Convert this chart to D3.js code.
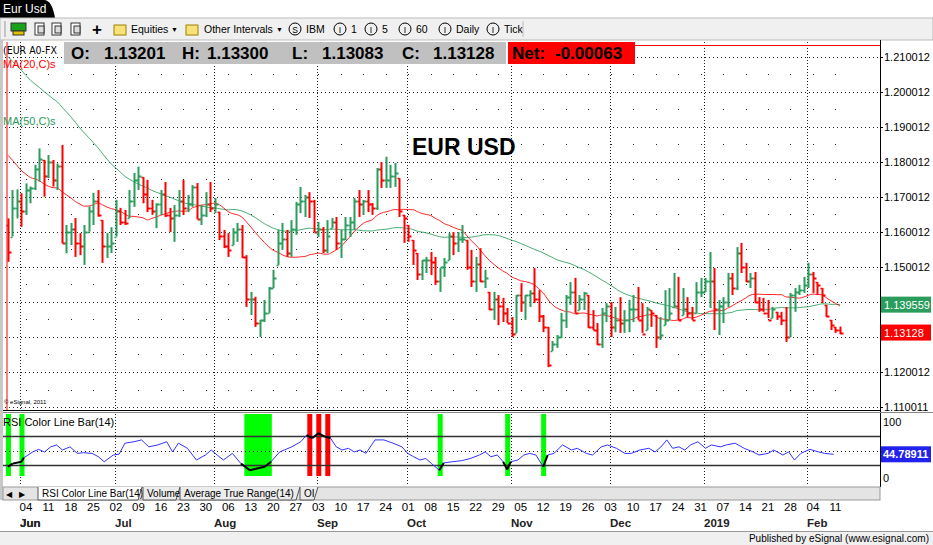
<!DOCTYPE html>
<html><head><meta charset="utf-8">
<script src="https://cdn.jsdelivr.net/npm/d3@7"></script>
<style>body{margin:0;background:#fff;overflow:hidden}svg{display:block;font-family:"Liberation Sans",Arial,sans-serif}</style>
</head><body><svg id="c" width="933" height="545"></svg>
<script>
// ---- data (EUR/USD daily) ----
const preCloses=[1.233,1.225,1.235,1.231,1.235,1.245,1.240,1.231,1.232,1.232,1.230,1.228,1.226,1.231,1.228,1.232,1.236,1.237,1.232,1.233,1.238,1.237,1.238,1.237,1.229,1.221,1.223,1.222,1.210,1.213,1.208,1.199,1.195,1.199,1.196,1.192,1.192,1.185,1.192,1.194,1.193,1.183,1.181,1.179,1.177,1.179,1.178,1.170,1.172,1.165,1.162];
const highs=[1.1639,1.1720,1.1722,1.1711,1.1739,1.1730,1.1792,1.1839,1.1806,1.1820,1.1806,1.1796,1.1849,1.1620,1.1626,1.1640,1.1597,1.1620,1.1673,1.1712,1.1720,1.1634,1.1597,1.1614,1.1692,1.1669,1.1663,1.1720,1.1769,1.1787,1.1757,1.1749,1.1692,1.1682,1.1720,1.1743,1.1669,1.1677,1.1720,1.1749,1.1706,1.1734,1.1740,1.1677,1.1714,1.1743,1.1697,1.1658,1.1606,1.1597,1.1611,1.1626,1.1620,1.1534,1.1429,1.1415,1.1349,1.1406,1.1443,1.1492,1.1606,1.1626,1.1606,1.1634,1.1686,1.1729,1.1706,1.1714,1.1692,1.1629,1.1614,1.1634,1.1640,1.1643,1.1606,1.1643,1.1643,1.1697,1.1720,1.1692,1.1720,1.1683,1.1783,1.1800,1.1815,1.1792,1.1797,1.1754,1.1649,1.1620,1.1577,1.1540,1.1520,1.1529,1.1543,1.1529,1.1497,1.1526,1.1597,1.1600,1.1600,1.1620,1.1577,1.1549,1.1529,1.1554,1.1492,1.1429,1.1429,1.1420,1.1412,1.1383,1.1357,1.1420,1.1454,1.1420,1.1434,1.1497,1.1434,1.1363,1.1329,1.1289,1.1306,1.1369,1.1420,1.1457,1.1469,1.1420,1.1429,1.1420,1.1377,1.1340,1.1383,1.1397,1.1400,1.1386,1.1414,1.1377,1.1406,1.1420,1.1443,1.1397,1.1386,1.1377,1.1363,1.1357,1.1434,1.1440,1.1483,1.1472,1.1440,1.1414,1.1386,1.1457,1.1469,1.1469,1.1543,1.1497,1.1406,1.1414,1.1483,1.1483,1.1557,1.1569,1.1512,1.1483,1.1486,1.1414,1.1412,1.1406,1.1386,1.1372,1.1372,1.1386,1.1426,1.1440,1.1449,1.1472,1.1512,1.1486,1.1457,1.1440,1.1392,1.1349,1.1329,1.1330];
const lows=[1.1515,1.1587,1.1639,1.1615,1.1649,1.1682,1.1720,1.1744,1.1701,1.1754,1.1730,1.1720,1.1568,1.1539,1.1563,1.1529,1.1534,1.1506,1.1601,1.1620,1.1644,1.1512,1.1526,1.1540,1.1587,1.1620,1.1620,1.1640,1.1672,1.1720,1.1682,1.1657,1.1649,1.1611,1.1649,1.1643,1.1600,1.1572,1.1643,1.1649,1.1657,1.1672,1.1637,1.1620,1.1643,1.1657,1.1654,1.1577,1.1554,1.1529,1.1563,1.1572,1.1526,1.1386,1.1363,1.1329,1.1300,1.1343,1.1369,1.1440,1.1506,1.1549,1.1529,1.1529,1.1592,1.1654,1.1643,1.1640,1.1600,1.1586,1.1540,1.1540,1.1612,1.1549,1.1526,1.1577,1.1586,1.1606,1.1643,1.1649,1.1657,1.1649,1.1663,1.1726,1.1726,1.1726,1.1729,1.1643,1.1569,1.1572,1.1506,1.1463,1.1463,1.1483,1.1477,1.1449,1.1429,1.1472,1.1520,1.1534,1.1543,1.1569,1.1492,1.1443,1.1429,1.1457,1.1440,1.1377,1.1349,1.1334,1.1343,1.1340,1.1300,1.1312,1.1372,1.1349,1.1386,1.1397,1.1343,1.1314,1.1214,1.1260,1.1269,1.1297,1.1326,1.1392,1.1369,1.1377,1.1377,1.1326,1.1320,1.1277,1.1269,1.1343,1.1300,1.1314,1.1312,1.1312,1.1314,1.1343,1.1349,1.1312,1.1320,1.1329,1.1269,1.1292,1.1334,1.1349,1.1386,1.1349,1.1363,1.1357,1.1349,1.1369,1.1414,1.1429,1.1383,1.1320,1.1306,1.1340,1.1386,1.1420,1.1434,1.1483,1.1457,1.1440,1.1397,1.1372,1.1372,1.1354,1.1354,1.1349,1.1334,1.1286,1.1300,1.1372,1.1420,1.1426,1.1440,1.1426,1.1420,1.1397,1.1357,1.1320,1.1312,1.1308];
const closes=[1.1543,1.167,1.169,1.166,1.172,1.1725,1.178,1.181,1.176,1.180,1.175,1.179,1.157,1.160,1.161,1.157,1.156,1.160,1.166,1.169,1.165,1.156,1.156,1.157,1.166,1.163,1.1625,1.169,1.175,1.176,1.171,1.167,1.166,1.168,1.171,1.165,1.164,1.165,1.169,1.167,1.168,1.173,1.1637,1.165,1.168,1.167,1.168,1.159,1.156,1.155,1.160,1.161,1.153,1.141,1.141,1.134,1.135,1.137,1.144,1.147,1.157,1.158,1.154,1.161,1.168,1.169,1.170,1.169,1.160,1.161,1.155,1.159,1.163,1.157,1.158,1.162,1.163,1.169,1.168,1.169,1.168,1.167,1.178,1.175,1.175,1.176,1.177,1.166,1.164,1.159,1.155,1.148,1.152,1.152,1.1515,1.146,1.150,1.1515,1.159,1.157,1.158,1.158,1.150,1.146,1.151,1.146,1.147,1.138,1.141,1.139,1.137,1.134,1.131,1.142,1.140,1.142,1.1425,1.141,1.136,1.133,1.122,1.128,1.130,1.135,1.1415,1.143,1.137,1.141,1.1425,1.133,1.132,1.128,1.137,1.139,1.133,1.135,1.134,1.135,1.138,1.138,1.135,1.131,1.138,1.137,1.130,1.1306,1.135,1.137,1.139,1.135,1.138,1.137,1.135,1.143,1.143,1.146,1.146,1.138,1.139,1.140,1.147,1.144,1.154,1.150,1.146,1.147,1.140,1.138,1.137,1.135,1.138,1.136,1.135,1.130,1.142,1.143,1.1435,1.145,1.148,1.147,1.145,1.142,1.136,1.1335,1.132,1.13128];
const priceTicks=[1.210012,1.200012,1.190012,1.180012,1.170012,1.160012,1.150012,1.140012,1.130012,1.120012,1.110011];
// RSI(14) line: bar index, value
const rsiIdx=[0,1,3,3.5,5.5,6.8,8.1,9.5,10.8,12.1,13.8,15.4,16.8,18.7,20.1,21.4,23.4,24.7,26,28,29.7,31.3,33.3,35.3,36.6,37.9,39.9,41.9,43.9,45.2,46.5,47.9,49.9,51.8,53.8,55.1,57.1,58.5,60.4,63.1,65.1,66.4,67.7,69,70.4,71.7,73,74.3,75.7,77,78.3,79.6,81.6,83.6,85.6,87.6,88.9,90.2,91.6,92.9,94.2,95.9,96.9,98.8,100.8,102.8,104.8,106.1,107.4,108.8,110.1,111,111.8,113.4,114.7,116,117.4,119,120,121.4,123.3,125.3,126.6,128.6,130,131.9,133.3,135.3,137.2,138.6,140.5,142.5,143.9,145.2,146.5,147.8,149.2,150.5,151.8,153.4,155.1,156.4,158.4,159.7,161.7,163.7,165.7,167,169,170.3,172.3,173.6,174.9,176.3,178.3,180.3,181.6,183.6];
const rsiVal=[27.7,32,34.6,40,48,51.6,48,55,57.6,50.7,55,46,47,46,41.5,34.6,43.8,45,60,62,64.5,55,57.6,62,48,60,53,37,43.8,50.7,43.8,37,46,32,23,25,27.7,34.6,48,55,62,71,67,73.7,69,67,55,50.7,53,48,50.7,46,64.5,64.5,60,55,46,41.5,37,39,32,23,33,34.6,36,39,43.8,48,41.5,43.8,34.6,24,34.6,37,43.8,46,43.8,27.7,43.8,46,57.6,50.7,53,46,43.8,55,57.6,53,46,46,50.7,53,48,55,64.5,53,55,50.7,57.6,62,53,57.6,55,57.6,60,53,48,43.8,46,50.7,43.8,48,37,46,51.6,48,46,44.78911];
const greenZones=[[0,0],[3,3],[53,58],[96,96],[111,111],[119,119]];
const redZones=[[67,67],[69,69],[71,71]];
const startDate=new Date(2018,4,29);
const header={sym:"(EUR A0-FX",o:"1.13201",h:"1.13300",l:"1.13083",c:"1.13128",net:"-0.00063"};
const ma50Last="1.139559", rsiLast="44.78911";

// ---- build dates (weekdays) ----
const dates=[];{let d=new Date(startDate);while(dates.length<closes.length){const w=d.getDay();if(w>0&&w<6)dates.push(new Date(d));d=d3.timeDay.offset(d,1);}}
const bars=closes.map((c,i)=>({i,c,h:highs[i],l:lows[i],o:i?closes[i-1]:preCloses[preCloses.length-1]}));
const all=preCloses.concat(closes),P=preCloses.length;
function ma(n){return closes.map((c,i)=>{const j=i+P;return d3.mean(all.slice(j-n+1,j+1));});}
const ma20=ma(20),ma50=ma(50);

const svg=d3.select("#c");
const x=d3.scaleLinear().domain([0,closes.length-1]).range([8,8+(closes.length-1)*4.497]);
const y=d3.scaleLinear().domain([1.110011,1.210012]).range([407,57]);
const yr=d3.scaleLinear().domain([0,100]).range([487,414]);
const GREEN="#2a9d5c",RED="#ff0000";

// top tab & toolbar
svg.append("path").attr("d","M0,0H44Q52,0 55,18H0Z").attr("fill","#000");
svg.append("text").attr("x",3).attr("y",13).attr("fill","#fff").attr("font-size",12).text("Eur Usd");
svg.append("rect").attr("x",0).attr("y",18).attr("width",933).attr("height",22).attr("fill","#f0f0f0").attr("stroke","#bbb");
const tb=svg.append("g").attr("font-size",10.5);
tb.append("rect").attr("x",11).attr("y",23).attr("width",15).attr("height",8).attr("fill","#1aa01a").attr("stroke","#333");
tb.append("rect").attr("x",13).attr("y",31).attr("width",11).attr("height",4).attr("fill","#e0c000").attr("stroke","#333");
[35,52,71].forEach(a=>{tb.append("rect").attr("x",a).attr("y",23).attr("width",9).attr("height",12).attr("fill","#fff").attr("stroke","#333");tb.append("rect").attr("x",a+3).attr("y",26).attr("width",6).attr("height",7).attr("fill","#ddd").attr("stroke","#333");});
tb.append("text").attr("x",92).attr("y",35).attr("font-size",17).attr("font-weight","bold").text("+");
[114,186].forEach(a=>tb.append("rect").attr("x",a).attr("y",25).attr("width",12).attr("height",10).attr("fill","#f7e27a").attr("stroke","#a08000"));
tb.append("text").attr("x",131).attr("y",33).text("Equities");
tb.append("text").attr("x",171).attr("y",32).attr("font-size",7).text("▼");
tb.append("text").attr("x",204).attr("y",33).text("Other Intervals");
tb.append("text").attr("x",276).attr("y",32).attr("font-size",7).text("▼");
[["S","IBM",289],["I","1",334],["I","5",365],["I","60",399],["I","Daily",439],["I","Tick",487]].forEach(([s,t,a])=>{tb.append("circle").attr("cx",a+6).attr("cy",29).attr("r",6).attr("fill","none").attr("stroke","#000");tb.append("text").attr("x",a+6).attr("y",32.5).attr("text-anchor","middle").attr("font-size",8.5).text(s);tb.append("text").attr("x",a+17).attr("y",33).text(t);});
tb.append("line").attr("x1",5).attr("x2",5).attr("y1",21).attr("y2",37).attr("stroke","#999");
tb.append("line").attr("x1",523).attr("x2",523).attr("y1",21).attr("y2",37).attr("stroke","#bbb");

// frame
svg.append("rect").attr("x",0).attr("y",40).attr("width",3).attr("height",460).attr("fill","#c8c8c8");
svg.append("line").attr("x1",880.5).attr("x2",880.5).attr("y1",40).attr("y2",487).attr("stroke","#000");
svg.append("line").attr("x1",3).attr("x2",880).attr("y1",410.5).attr("y2",410.5).attr("stroke","#000");
svg.append("line").attr("x1",3).attr("x2",933).attr("y1",412.5).attr("y2",412.5).attr("stroke","#888");

// grid
const grid=svg.append("g");
const monthStarts=dates.map((d,i)=>i).filter(i=>i>0&&dates[i].getMonth()!==dates[i-1].getMonth());
const mondays=dates.map((d,i)=>i).filter(i=>dates[i].getDay()===1);
priceTicks.forEach(p=>grid.append("line").attr("x1",5).attr("x2",880).attr("y1",Math.round(y(p))+.5).attr("y2",Math.round(y(p))+.5).attr("stroke","#222").attr("stroke-dasharray","1,3"));
priceTicks.slice(1).forEach(p=>{const yy=Math.round(y(p+0.005));mondays.forEach(i=>grid.append("rect").attr("x",Math.round(x(i))).attr("y",yy).attr("width",1).attr("height",1).attr("fill","#222"));});
monthStarts.forEach(i=>{[[42,410],[414,486]].forEach(([a,b])=>grid.append("line").attr("x1",Math.round(x(i))-.5).attr("x2",Math.round(x(i))-.5).attr("y1",a).attr("y2",b).attr("stroke","#222").attr("stroke-dasharray","1,2"));});

// MAs
const line=d3.line().x((d,i)=>x(i)).y(d=>y(d)).curve(d3.curveMonotoneX);
svg.append("clipPath").attr("id","pc").append("rect").attr("x",4).attr("y",42).attr("width",876).attr("height",368);
svg.append("path").attr("d",line(ma50)).attr("fill","none").attr("stroke",GREEN).attr("stroke-width",1).attr("clip-path","url(#pc)").attr("opacity",.85);
svg.append("path").attr("d",line(ma20)).attr("fill","none").attr("stroke",RED).attr("stroke-width",1).attr("clip-path","url(#pc)").attr("opacity",.85);

// bars
const bg=svg.append("g");
bars.forEach(b=>{const col=b.c>=b.o?GREEN:RED;const xx=Math.round(x(b.i))+.5;
 bg.append("line").attr("x1",xx).attr("x2",xx).attr("y1",y(b.h)).attr("y2",y(b.l)).attr("stroke",col).attr("stroke-width",2);
 const yc=Math.round(y(b.c))+.5, yo=Math.round(y(Math.max(b.l,Math.min(b.h,b.o))))+.5;
 bg.append("line").attr("x1",xx).attr("x2",xx+3).attr("y1",yc).attr("y2",yc).attr("stroke",col).attr("stroke-width",2);
 bg.append("line").attr("x1",xx-2).attr("x2",xx).attr("y1",yo).attr("y2",yo).attr("stroke",col).attr("stroke-width",1.5);
});
svg.append("line").attr("x1",7).attr("x2",7).attr("y1",42).attr("y2",410).attr("stroke",RED);
svg.append("line").attr("x1",635).attr("x2",880).attr("y1",45.5).attr("y2",45.5).attr("stroke",RED);

// header
svg.append("text").attr("x",3).attr("y",54).attr("font-size",10.5).attr("font-family","DejaVu Sans Condensed, DejaVu Sans").text(header.sym);
svg.append("rect").attr("x",64).attr("y",42).attr("width",442).attr("height",22).attr("fill","#c0c0c0");
svg.append("rect").attr("x",508).attr("y",42).attr("width",127).attr("height",22).attr("fill",RED);
const hg=svg.append("g").attr("font-size",17).attr("font-weight","bold");
[["O:",71],[header.o,104],["H:",182],[header.h,207],["L:",292],[header.l,322],["C:",402],[header.c,433],["Net:",512],[header.net,555]].forEach(([t,a])=>hg.append("text").attr("x",a).attr("y",59).text(t));
svg.append("text").attr("x",3).attr("y",68).attr("font-size",11).attr("fill",RED).text("MA(20,C)s");
svg.append("text").attr("x",3).attr("y",125).attr("font-size",11).attr("fill",GREEN).text("MA(50,C)s");
svg.append("text").attr("x",412).attr("y",155).attr("font-size",23).attr("font-weight","bold").text("EUR USD");
svg.append("text").attr("x",4).attr("y",404).attr("font-size",6).text("© eSignal, 2011");

// price axis
const boxes=[[ma50[ma50.length-1],GREEN,ma50Last],[closes[closes.length-1],RED,header.c]];
const visTicks=priceTicks.filter(p=>boxes.every(b=>Math.abs(y(p)-y(b[0]))>12));
const pa=svg.append("g").attr("transform","translate(880,0)").call(d3.axisRight(y).tickValues(visTicks).tickFormat(d=>d.toFixed(6)).tickSize(3));
pa.select(".domain").remove();pa.selectAll("text").attr("font-size",11).attr("fill","#000").attr("x",4).attr("font-family","Liberation Sans");
boxes.forEach(([v,col,txt])=>{svg.append("rect").attr("x",881).attr("y",y(v)-8).attr("width",50).attr("height",16).attr("fill",col);svg.append("text").attr("x",884).attr("y",y(v)+4).attr("font-size",11).attr("fill","#fff").text(txt);});

// RSI panel
const rg=svg.append("g");
const zoneRect=(z,c)=>z.forEach(([a,b])=>rg.append("rect").attr("x",x(a)-2).attr("y",414).attr("width",x(b)-x(a)+5).attr("height",62).attr("fill",c));
zoneRect(greenZones,"#00ff00");zoneRect(redZones,RED);
[70,30].forEach(v=>rg.append("line").attr("x1",3).attr("x2",880).attr("y1",Math.round(yr(v))+.5).attr("y2",Math.round(yr(v))+.5).attr("stroke","#333").attr("stroke-width",1.5));
rg.append("line").attr("x1",5).attr("x2",880).attr("y1",Math.round(yr(50))+.5).attr("y2",Math.round(yr(50))+.5).attr("stroke","#222").attr("stroke-dasharray","1,3");
const rl=d3.line().x(d=>x(d[0])).y(d=>yr(d[1]));
const rpts=rsiIdx.map((t,k)=>[t,rsiVal[k]]);
rg.append("path").attr("d",rl(rpts)).attr("fill","none").attr("stroke","#3333ff").attr("stroke-width",1);
const inZone=t=>greenZones.concat(redZones).some(([a,b])=>t>=a-1.2&&t<=b+1.2);
for(let k=1;k<rpts.length;k++){if(inZone(rpts[k][0])&&inZone(rpts[k-1][0]))rg.append("path").attr("d",rl([rpts[k-1],rpts[k]])).attr("stroke","#000").attr("stroke-width",2);}
rg.append("text").attr("x",3).attr("y",426).attr("font-size",11).text("RSI Color Line Bar(14)");
rg.append("text").attr("x",883).attr("y",426).attr("font-size",11).text("100");
rg.append("text").attr("x",883).attr("y",482).attr("font-size",11).text("0");
const lastR=rsiVal[rsiVal.length-1];
rg.append("rect").attr("x",881).attr("y",yr(lastR)-8).attr("width",50).attr("height",16).attr("fill","#2222ee");
rg.append("text").attr("x",883).attr("y",yr(lastR)+4).attr("font-size",11).attr("font-weight","bold").attr("fill","#fff").text(rsiLast);

// tab bar
svg.append("rect").attr("x",3).attr("y",487).attr("width",877).attr("height",13).attr("fill","#e4e4e4").attr("stroke","#999");
svg.append("text").attr("x",6).attr("y",497).attr("font-size",8).text("◀");svg.append("text").attr("x",19).attr("y",497).attr("font-size",8).text("▶");
[["RSI Color Line Bar(14)",38,142],["Volume",143,180],["Average True Range(14)",180,300],["OI",300,318]].forEach(([t,a,b],k)=>{svg.append("path").attr("d",`M${a},487V500H${b-4}L${b},487`).attr("fill",k?"#ececec":"#fff").attr("stroke","#555");svg.append("text").attr("x",a+4).attr("y",497).attr("font-size",10).text(t);});

// date axis
const da=svg.append("g").attr("font-size",11.5);
mondays.forEach(i=>da.append("text").attr("x",x(i)).attr("y",511).attr("text-anchor","middle").text(d3.timeFormat("%d")(dates[i])));
[3].concat(monthStarts).forEach(i=>{const d=dates[i];da.append("text").attr("x",Math.round(x(i))-1).attr("y",527).attr("font-weight","bold").attr("fill","#222").text(d.getMonth()===0?d.getFullYear():d3.timeFormat("%b")(d));});
svg.append("line").attr("x1",0).attr("x2",933).attr("y1",531.5).attr("y2",531.5).attr("stroke","#999");
svg.append("rect").attr("x",0).attr("y",532).attr("width",933).attr("height",13).attr("fill","#f0f0f0");
svg.append("text").attr("x",929).attr("y",542).attr("text-anchor","end").attr("font-size",10).text("Published by eSignal (www.esignal.com)");
</script></body></html>
